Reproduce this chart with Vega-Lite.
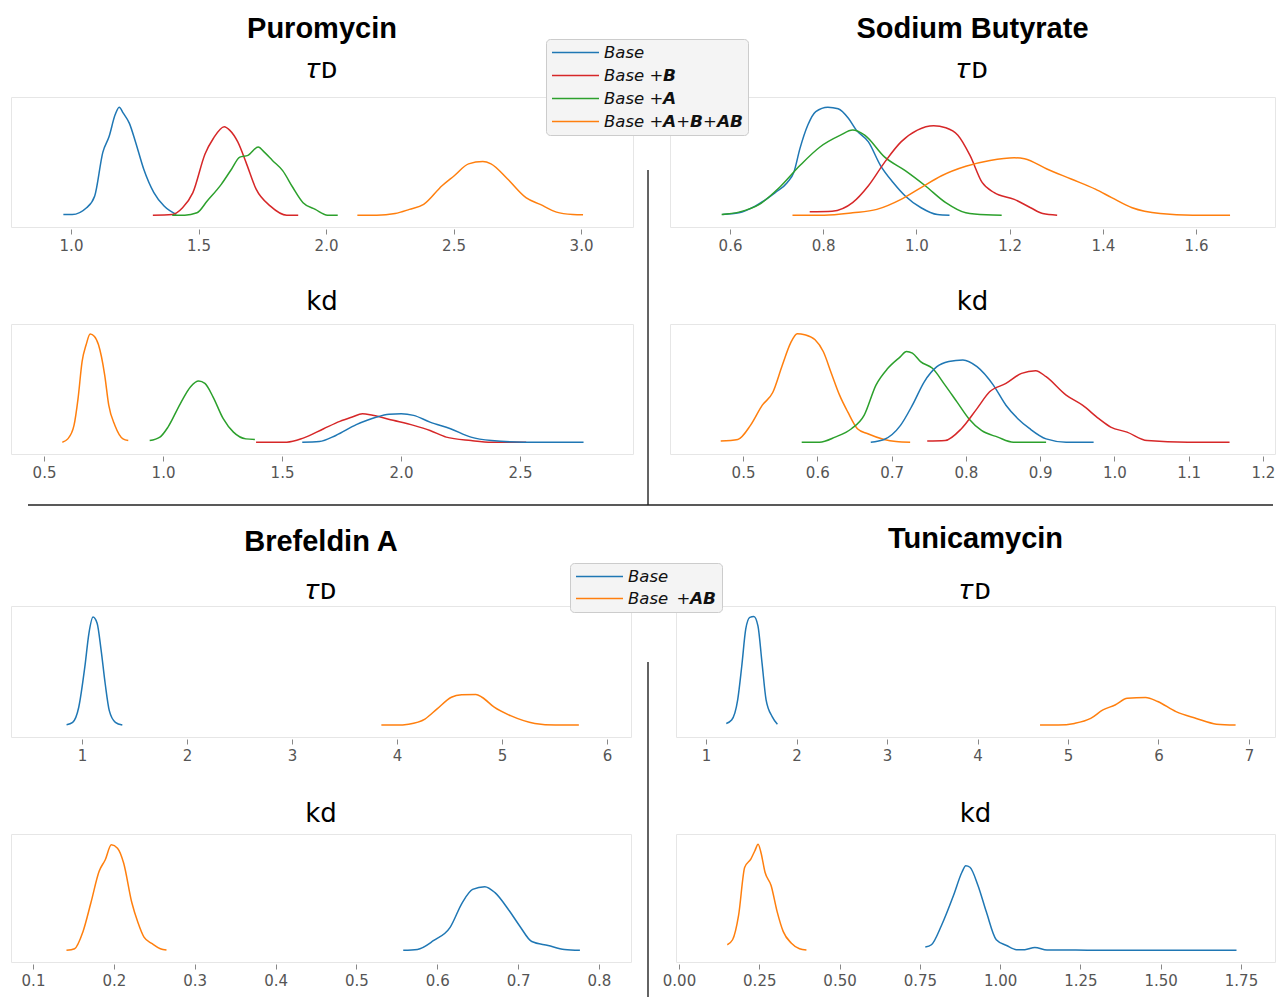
{
"$schema": "https://vega.github.io/schema/vega-lite/v6.json",
"padding": {"left": 10, "top": 14, "right": 0, "bottom": 0},
"config": {
  "view": {"stroke": "#e6e6e6", "strokeWidth": 1},
  "axis": {"domain": false, "grid": false, "ticks": true, "tickColor": "#888888", "tickSize": 5, "tickWidth": 1, "labelFont": "DejaVu Sans", "labelFontSize": 15, "labelColor": "#555555", "labelPadding": 4.5, "offset": 2, "labelFlush": false},
  "title": {"font": "Liberation Sans", "fontWeight": "bold", "fontSize": 29, "color": "black", "subtitleFont": "DejaVu Sans", "subtitleFontSize": 28, "subtitleColor": "black", "anchor": "middle", "frame": "group"},
  "legend": {"orient": "none", "title": null, "symbolType": "stroke", "symbolSize": 2209, "symbolStrokeWidth": 1.5, "labelFont": "DejaVu Sans", "labelFontStyle": "italic", "labelFontSize": 16.5, "labelColor": "#111111", "fillColor": "#f4f4f4", "strokeColor": "#cccccc", "cornerRadius": 4, "padding": 5, "rowPadding": 6, "clipHeight": 17, "labelOffset": 4, "labelLimit": 400},
  "line": {"strokeWidth": 1.5, "interpolate": "monotone"}
},
"datasets": {
  "pt": [
    {"s":"Base","x":0.970,"y":0.006},{"s":"Base","x":1.005,"y":0.006},{"s":"Base","x":1.061,"y":0.063},{"s":"Base","x":1.093,"y":0.163},{"s":"Base","x":1.125,"y":0.534},{"s":"Base","x":1.149,"y":0.663},{"s":"Base","x":1.173,"y":0.849},{"s":"Base","x":1.189,"y":0.914},{"s":"Base","x":1.205,"y":0.863},{"s":"Base","x":1.229,"y":0.777},{"s":"Base","x":1.253,"y":0.62},{"s":"Base","x":1.285,"y":0.391},{"s":"Base","x":1.325,"y":0.191},{"s":"Base","x":1.365,"y":0.077},{"s":"Base","x":1.413,"y":0.006},
    {"s":"Base +B","x":1.321,"y":0},{"s":"Base +B","x":1.397,"y":0.006},{"s":"Base +B","x":1.4375,"y":0.063},{"s":"Base +B","x":1.478,"y":0.191},{"s":"Base +B","x":1.526,"y":0.52},{"s":"Base +B","x":1.558,"y":0.649},{"s":"Base +B","x":1.601,"y":0.749},{"s":"Base +B","x":1.622,"y":0.72},{"s":"Base +B","x":1.654,"y":0.62},{"s":"Base +B","x":1.686,"y":0.449},{"s":"Base +B","x":1.726,"y":0.22},{"s":"Base +B","x":1.782,"y":0.077},{"s":"Base +B","x":1.846,"y":0},{"s":"Base +B","x":1.891,"y":0},
    {"s":"Base +A","x":1.397,"y":0},{"s":"Base +A","x":1.446,"y":0},{"s":"Base +A","x":1.494,"y":0.02},{"s":"Base +A","x":1.534,"y":0.12},{"s":"Base +A","x":1.590,"y":0.263},{"s":"Base +A","x":1.630,"y":0.391},{"s":"Base +A","x":1.662,"y":0.491},{"s":"Base +A","x":1.694,"y":0.506},{"s":"Base +A","x":1.734,"y":0.577},{"s":"Base +A","x":1.758,"y":0.534},{"s":"Base +A","x":1.790,"y":0.463},{"s":"Base +A","x":1.830,"y":0.377},{"s":"Base +A","x":1.870,"y":0.234},{"s":"Base +A","x":1.910,"y":0.106},{"s":"Base +A","x":1.958,"y":0.049},{"s":"Base +A","x":2.006,"y":0},{"s":"Base +A","x":2.046,"y":0},
    {"s":"Base +A+B+AB","x":2.123,"y":0},{"s":"Base +A+B+AB","x":2.199,"y":0},{"s":"Base +A+B+AB","x":2.271,"y":0.014},{"s":"Base +A+B+AB","x":2.327,"y":0.049},{"s":"Base +A+B+AB","x":2.383,"y":0.091},{"s":"Base +A+B+AB","x":2.455,"y":0.249},{"s":"Base +A+B+AB","x":2.503,"y":0.334},{"s":"Base +A+B+AB","x":2.559,"y":0.434},{"s":"Base +A+B+AB","x":2.615,"y":0.454},{"s":"Base +A+B+AB","x":2.647,"y":0.434},{"s":"Base +A+B+AB","x":2.712,"y":0.306},{"s":"Base +A+B+AB","x":2.784,"y":0.149},{"s":"Base +A+B+AB","x":2.840,"y":0.091},{"s":"Base +A+B+AB","x":2.904,"y":0.026},{"s":"Base +A+B+AB","x":2.968,"y":0.006},{"s":"Base +A+B+AB","x":3.008,"y":0.003}
  ],
  "sbt": [
    {"s":"Base","x":0.584,"y":0.006},{"s":"Base","x":0.619,"y":0.02},{"s":"Base","x":0.654,"y":0.077},{"s":"Base","x":0.697,"y":0.191},{"s":"Base","x":0.723,"y":0.277},{"s":"Base","x":0.737,"y":0.363},{"s":"Base","x":0.750,"y":0.563},{"s":"Base","x":0.767,"y":0.763},{"s":"Base","x":0.784,"y":0.877},{"s":"Base","x":0.810,"y":0.914},{"s":"Base","x":0.832,"y":0.9},{"s":"Base","x":0.854,"y":0.82},{"s":"Base","x":0.871,"y":0.72},{"s":"Base","x":0.897,"y":0.62},{"s":"Base","x":0.923,"y":0.42},{"s":"Base","x":0.950,"y":0.277},{"s":"Base","x":0.976,"y":0.163},{"s":"Base","x":1.010,"y":0.063},{"s":"Base","x":1.045,"y":0.006},{"s":"Base","x":1.071,"y":0},
    {"s":"Base +A","x":0.582,"y":0.006},{"s":"Base +A","x":0.619,"y":0.026},{"s":"Base +A","x":0.663,"y":0.091},{"s":"Base +A","x":0.706,"y":0.234},{"s":"Base +A","x":0.750,"y":0.42},{"s":"Base +A","x":0.793,"y":0.577},{"s":"Base +A","x":0.837,"y":0.677},{"s":"Base +A","x":0.863,"y":0.72},{"s":"Base +A","x":0.889,"y":0.677},{"s":"Base +A","x":0.932,"y":0.491},{"s":"Base +A","x":0.976,"y":0.377},{"s":"Base +A","x":1.019,"y":0.249},{"s":"Base +A","x":1.063,"y":0.106},{"s":"Base +A","x":1.106,"y":0.02},{"s":"Base +A","x":1.150,"y":0.003},{"s":"Base +A","x":1.183,"y":0},
    {"s":"Base +B","x":0.771,"y":0.029},{"s":"Base +B","x":0.819,"y":0.034},{"s":"Base +B","x":0.863,"y":0.106},{"s":"Base +B","x":0.897,"y":0.249},{"s":"Base +B","x":0.932,"y":0.449},{"s":"Base +B","x":0.967,"y":0.62},{"s":"Base +B","x":1.002,"y":0.72},{"s":"Base +B","x":1.037,"y":0.757},{"s":"Base +B","x":1.063,"y":0.74},{"s":"Base +B","x":1.089,"y":0.677},{"s":"Base +B","x":1.115,"y":0.506},{"s":"Base +B","x":1.141,"y":0.277},{"s":"Base +B","x":1.167,"y":0.191},{"s":"Base +B","x":1.210,"y":0.134},{"s":"Base +B","x":1.245,"y":0.063},{"s":"Base +B","x":1.271,"y":0.014},{"s":"Base +B","x":1.302,"y":0},
    {"s":"Base +A+B+AB","x":0.734,"y":0},{"s":"Base +A+B+AB","x":0.802,"y":0},{"s":"Base +A+B+AB","x":0.863,"y":0.02},{"s":"Base +A+B+AB","x":0.915,"y":0.049},{"s":"Base +A+B+AB","x":0.967,"y":0.134},{"s":"Base +A+B+AB","x":1.010,"y":0.234},{"s":"Base +A+B+AB","x":1.054,"y":0.334},{"s":"Base +A+B+AB","x":1.106,"y":0.414},{"s":"Base +A+B+AB","x":1.158,"y":0.463},{"s":"Base +A+B+AB","x":1.210,"y":0.486},{"s":"Base +A+B+AB","x":1.232,"y":0.477},{"s":"Base +A+B+AB","x":1.280,"y":0.391},{"s":"Base +A+B+AB","x":1.332,"y":0.306},{"s":"Base +A+B+AB","x":1.384,"y":0.22},{"s":"Base +A+B+AB","x":1.419,"y":0.149},{"s":"Base +A+B+AB","x":1.463,"y":0.063},{"s":"Base +A+B+AB","x":1.523,"y":0.014},{"s":"Base +A+B+AB","x":1.593,"y":0},{"s":"Base +A+B+AB","x":1.673,"y":0}
  ],
  "pk": [
    {"s":"Base +A+B+AB","x":0.577,"y":0},{"s":"Base +A+B+AB","x":0.600,"y":0.028},{"s":"Base +A+B+AB","x":0.626,"y":0.142},{"s":"Base +A+B+AB","x":0.643,"y":0.369},{"s":"Base +A+B+AB","x":0.660,"y":0.682},{"s":"Base +A+B+AB","x":0.677,"y":0.824},{"s":"Base +A+B+AB","x":0.694,"y":0.915},{"s":"Base +A+B+AB","x":0.712,"y":0.895},{"s":"Base +A+B+AB","x":0.729,"y":0.824},{"s":"Base +A+B+AB","x":0.755,"y":0.568},{"s":"Base +A+B+AB","x":0.772,"y":0.313},{"s":"Base +A+B+AB","x":0.798,"y":0.142},{"s":"Base +A+B+AB","x":0.832,"y":0.028},{"s":"Base +A+B+AB","x":0.854,"y":0.014},
    {"s":"Base +A","x":0.944,"y":0.014},{"s":"Base +A","x":0.987,"y":0.043},{"s":"Base +A","x":1.021,"y":0.128},{"s":"Base +A","x":1.073,"y":0.327},{"s":"Base +A","x":1.116,"y":0.469},{"s":"Base +A","x":1.150,"y":0.517},{"s":"Base +A","x":1.176,"y":0.497},{"s":"Base +A","x":1.210,"y":0.384},{"s":"Base +A","x":1.253,"y":0.199},{"s":"Base +A","x":1.296,"y":0.085},{"s":"Base +A","x":1.348,"y":0.028},{"s":"Base +A","x":1.386,"y":0.023},
    {"s":"Base +B","x":1.391,"y":0},{"s":"Base +B","x":1.520,"y":0},{"s":"Base +B","x":1.589,"y":0.034},{"s":"Base +B","x":1.675,"y":0.114},{"s":"Base +B","x":1.743,"y":0.176},{"s":"Base +B","x":1.795,"y":0.213},{"s":"Base +B","x":1.838,"y":0.241},{"s":"Base +B","x":1.881,"y":0.227},{"s":"Base +B","x":1.967,"y":0.185},{"s":"Base +B","x":2.053,"y":0.142},{"s":"Base +B","x":2.122,"y":0.099},{"s":"Base +B","x":2.190,"y":0.043},{"s":"Base +B","x":2.294,"y":0.014},{"s":"Base +B","x":2.380,"y":0},{"s":"Base +B","x":2.526,"y":0},
    {"s":"Base","x":1.585,"y":0},{"s":"Base","x":1.657,"y":0.006},{"s":"Base","x":1.726,"y":0.057},{"s":"Base","x":1.812,"y":0.148},{"s":"Base","x":1.898,"y":0.213},{"s":"Base","x":1.950,"y":0.236},{"s":"Base","x":2.001,"y":0.241},{"s":"Base","x":2.053,"y":0.227},{"s":"Base","x":2.122,"y":0.170},{"s":"Base","x":2.208,"y":0.114},{"s":"Base","x":2.294,"y":0.043},{"s":"Base","x":2.380,"y":0.014},{"s":"Base","x":2.517,"y":0},{"s":"Base","x":2.767,"y":0}
  ],
  "sbk": [
    {"s":"Base +A+B+AB","x":0.470,"y":0.009},{"s":"Base +A+B+AB","x":0.493,"y":0.023},{"s":"Base +A+B+AB","x":0.510,"y":0.142},{"s":"Base +A+B+AB","x":0.526,"y":0.313},{"s":"Base +A+B+AB","x":0.540,"y":0.42},{"s":"Base +A+B+AB","x":0.553,"y":0.653},{"s":"Base +A+B+AB","x":0.564,"y":0.838},{"s":"Base +A+B+AB","x":0.573,"y":0.918},{"s":"Base +A+B+AB","x":0.583,"y":0.909},{"s":"Base +A+B+AB","x":0.597,"y":0.866},{"s":"Base +A+B+AB","x":0.608,"y":0.767},{"s":"Base +A+B+AB","x":0.619,"y":0.582},{"s":"Base +A+B+AB","x":0.630,"y":0.398},{"s":"Base +A+B+AB","x":0.641,"y":0.256},{"s":"Base +A+B+AB","x":0.654,"y":0.114},{"s":"Base +A+B+AB","x":0.668,"y":0.071},{"s":"Base +A+B+AB","x":0.690,"y":0.023},{"s":"Base +A+B+AB","x":0.706,"y":0.006},{"s":"Base +A+B+AB","x":0.725,"y":0},
    {"s":"Base +A","x":0.579,"y":0},{"s":"Base +A","x":0.603,"y":0},{"s":"Base +A","x":0.624,"y":0.043},{"s":"Base +A","x":0.646,"y":0.114},{"s":"Base +A","x":0.663,"y":0.227},{"s":"Base +A","x":0.679,"y":0.483},{"s":"Base +A","x":0.695,"y":0.625},{"s":"Base +A","x":0.712,"y":0.724},{"s":"Base +A","x":0.720,"y":0.767},{"s":"Base +A","x":0.728,"y":0.753},{"s":"Base +A","x":0.739,"y":0.682},{"s":"Base +A","x":0.755,"y":0.625},{"s":"Base +A","x":0.772,"y":0.483},{"s":"Base +A","x":0.788,"y":0.341},{"s":"Base +A","x":0.804,"y":0.199},{"s":"Base +A","x":0.821,"y":0.099},{"s":"Base +A","x":0.843,"y":0.043},{"s":"Base +A","x":0.864,"y":0},{"s":"Base +A","x":0.908,"y":0},
    {"s":"Base","x":0.672,"y":0},{"s":"Base","x":0.690,"y":0.023},{"s":"Base","x":0.712,"y":0.142},{"s":"Base","x":0.728,"y":0.313},{"s":"Base","x":0.744,"y":0.511},{"s":"Base","x":0.761,"y":0.639},{"s":"Base","x":0.777,"y":0.682},{"s":"Base","x":0.796,"y":0.696},{"s":"Base","x":0.815,"y":0.639},{"s":"Base","x":0.837,"y":0.483},{"s":"Base","x":0.854,"y":0.313},{"s":"Base","x":0.870,"y":0.199},{"s":"Base","x":0.886,"y":0.114},{"s":"Base","x":0.908,"y":0.028},{"s":"Base","x":0.935,"y":0},{"s":"Base","x":0.972,"y":0},
    {"s":"Base +B","x":0.748,"y":0.009},{"s":"Base +B","x":0.772,"y":0.014},{"s":"Base +B","x":0.794,"y":0.114},{"s":"Base +B","x":0.815,"y":0.284},{"s":"Base +B","x":0.832,"y":0.426},{"s":"Base +B","x":0.854,"y":0.497},{"s":"Base +B","x":0.875,"y":0.582},{"s":"Base +B","x":0.894,"y":0.605},{"s":"Base +B","x":0.908,"y":0.554},{"s":"Base +B","x":0.935,"y":0.398},{"s":"Base +B","x":0.957,"y":0.313},{"s":"Base +B","x":0.979,"y":0.199},{"s":"Base +B","x":0.995,"y":0.128},{"s":"Base +B","x":1.017,"y":0.085},{"s":"Base +B","x":1.044,"y":0.014},{"s":"Base +B","x":1.099,"y":0},{"s":"Base +B","x":1.155,"y":0}
  ],
  "bt": [
    {"s":"Base","x":0.853,"y":0.003},{"s":"Base","x":0.911,"y":0.023},{"s":"Base","x":0.969,"y":0.150},{"s":"Base","x":1.027,"y":0.489},{"s":"Base","x":1.066,"y":0.771},{"s":"Base","x":1.105,"y":0.907},{"s":"Base","x":1.144,"y":0.856},{"s":"Base","x":1.182,"y":0.630},{"s":"Base","x":1.221,"y":0.347},{"s":"Base","x":1.260,"y":0.121},{"s":"Base","x":1.318,"y":0.023},{"s":"Base","x":1.384,"y":0},
    {"s":"Base +AB","x":3.851,"y":0},{"s":"Base +AB","x":3.995,"y":0},{"s":"Base +AB","x":4.111,"y":0.008},{"s":"Base +AB","x":4.266,"y":0.051},{"s":"Base +AB","x":4.382,"y":0.136},{"s":"Base +AB","x":4.518,"y":0.234},{"s":"Base +AB","x":4.615,"y":0.254},{"s":"Base +AB","x":4.751,"y":0.257},{"s":"Base +AB","x":4.809,"y":0.234},{"s":"Base +AB","x":4.926,"y":0.150},{"s":"Base +AB","x":5.081,"y":0.079},{"s":"Base +AB","x":5.313,"y":0.014},{"s":"Base +AB","x":5.507,"y":0},{"s":"Base +AB","x":5.732,"y":0}
  ],
  "tt": [
    {"s":"Base","x":1.224,"y":0.014},{"s":"Base","x":1.283,"y":0.042},{"s":"Base","x":1.350,"y":0.212},{"s":"Base","x":1.395,"y":0.494},{"s":"Base","x":1.439,"y":0.805},{"s":"Base","x":1.484,"y":0.904},{"s":"Base","x":1.529,"y":0.912},{"s":"Base","x":1.574,"y":0.833},{"s":"Base","x":1.619,"y":0.523},{"s":"Base","x":1.664,"y":0.212},{"s":"Base","x":1.731,"y":0.071},{"s":"Base","x":1.789,"y":0.008},
    {"s":"Base +AB","x":4.691,"y":0},{"s":"Base +AB","x":4.892,"y":0},{"s":"Base +AB","x":5.072,"y":0.014},{"s":"Base +AB","x":5.251,"y":0.056},{"s":"Base +AB","x":5.386,"y":0.127},{"s":"Base +AB","x":5.520,"y":0.169},{"s":"Base +AB","x":5.655,"y":0.226},{"s":"Base +AB","x":5.857,"y":0.232},{"s":"Base +AB","x":5.991,"y":0.198},{"s":"Base +AB","x":6.193,"y":0.113},{"s":"Base +AB","x":6.417,"y":0.056},{"s":"Base +AB","x":6.641,"y":0.008},{"s":"Base +AB","x":6.852,"y":0}
  ],
  "bk": [
    {"s":"Base +AB","x":0.1414,"y":0},{"s":"Base +AB","x":0.1515,"y":0.014},{"s":"Base +AB","x":0.1616,"y":0.156},{"s":"Base +AB","x":0.1717,"y":0.411},{"s":"Base +AB","x":0.1818,"y":0.680},{"s":"Base +AB","x":0.1894,"y":0.779},{"s":"Base +AB","x":0.1969,"y":0.907},{"s":"Base +AB","x":0.2045,"y":0.878},{"s":"Base +AB","x":0.2121,"y":0.751},{"s":"Base +AB","x":0.2222,"y":0.411},{"s":"Base +AB","x":0.2297,"y":0.241},{"s":"Base +AB","x":0.2373,"y":0.113},{"s":"Base +AB","x":0.2474,"y":0.057},{"s":"Base +AB","x":0.2575,"y":0.014},{"s":"Base +AB","x":0.2651,"y":0.003},
    {"s":"Base","x":0.5579,"y":0},{"s":"Base","x":0.5755,"y":0.008},{"s":"Base","x":0.5957,"y":0.085},{"s":"Base","x":0.6159,"y":0.198},{"s":"Base","x":0.6310,"y":0.411},{"s":"Base","x":0.6437,"y":0.524},{"s":"Base","x":0.6588,"y":0.547},{"s":"Base","x":0.6714,"y":0.496},{"s":"Base","x":0.6891,"y":0.340},{"s":"Base","x":0.7017,"y":0.212},{"s":"Base","x":0.7169,"y":0.076},{"s":"Base","x":0.7371,"y":0.042},{"s":"Base","x":0.7573,"y":0.008},{"s":"Base","x":0.7764,"y":0}
  ],
  "tk": [
    {"s":"Base +AB","x":0.1504,"y":0.048},{"s":"Base +AB","x":0.1668,"y":0.091},{"s":"Base +AB","x":0.1857,"y":0.303},{"s":"Base +AB","x":0.2047,"y":0.714},{"s":"Base +AB","x":0.2237,"y":0.785},{"s":"Base +AB","x":0.2363,"y":0.856},{"s":"Base +AB","x":0.2464,"y":0.912},{"s":"Base +AB","x":0.2552,"y":0.841},{"s":"Base +AB","x":0.2679,"y":0.671},{"s":"Base +AB","x":0.2868,"y":0.558},{"s":"Base +AB","x":0.3058,"y":0.331},{"s":"Base +AB","x":0.3247,"y":0.161},{"s":"Base +AB","x":0.3500,"y":0.062},{"s":"Base +AB","x":0.3753,"y":0.014},{"s":"Base +AB","x":0.3968,"y":0.003},
    {"s":"Base","x":0.767,"y":0.028},{"s":"Base","x":0.786,"y":0.048},{"s":"Base","x":0.818,"y":0.218},{"s":"Base","x":0.855,"y":0.473},{"s":"Base","x":0.881,"y":0.671},{"s":"Base","x":0.893,"y":0.728},{"s":"Base","x":0.906,"y":0.714},{"s":"Base","x":0.931,"y":0.558},{"s":"Base","x":0.957,"y":0.331},{"s":"Base","x":0.988,"y":0.091},{"s":"Base","x":1.020,"y":0.042},{"s":"Base","x":1.051,"y":0.006},{"s":"Base","x":1.077,"y":0.006},{"s":"Base","x":1.108,"y":0.025},{"s":"Base","x":1.146,"y":0.004},{"s":"Base","x":1.200,"y":0.003},{"s":"Base","x":1.272,"y":0.002},{"s":"Base","x":1.350,"y":0.001},{"s":"Base","x":1.399,"y":0},{"s":"Base","x":1.525,"y":0},{"s":"Base","x":1.601,"y":0.002},{"s":"Base","x":1.652,"y":0},{"s":"Base","x":1.736,"y":0}
  ]
},
"vconcat": [
  {
    "columns": 2, "bounds": "flush", "spacing": {"row": 97, "column": 37},
    "concat": [
      {
        "width": 622, "height": 130,
        "title": {"text": "Puromycin", "subtitle": "𝜏ᴅ", "subtitlePadding": 12, "offset": 13},
        "data": {"name": "pt"},
        "mark": {"type": "line"},
        "encoding": {
          "x": {"field": "x", "type": "quantitative", "scale": {"domain": [0.7647, 3.2039], "nice": false, "zero": false}, "axis": {"title": null, "values": [1, 1.5, 2, 2.5, 3], "format": ".1f"}},
          "y": {"field": "y", "type": "quantitative", "scale": {"domain": [-0.1, 1.0], "nice": false, "zero": false}, "axis": null},
          "color": {"field": "s", "type": "nominal", "scale": {"domain": ["Base", "Base +B", "Base +A", "Base +A+B+AB"], "range": ["#1f77b4", "#d62728", "#2ca02c", "#ff7f0e"]}, "legend": {"legendX": 535, "legendY": -58, "labelExpr": "datum.label == 'Base +B' ? 'Base +𝘽' : datum.label == 'Base +A' ? 'Base +𝘼' : datum.label == 'Base +A+B+AB' ? 'Base +𝘼+𝘽+𝘼𝘽' : datum.label"}}
        }
      },
      {
        "width": 605, "height": 130,
        "title": {"text": "Sodium Butyrate", "subtitle": "𝜏ᴅ", "subtitlePadding": 12, "offset": 13},
        "layer": [
          {
            "data": {"name": "sbt"},
            "mark": {"type": "line"},
            "encoding": {
              "x": {"field": "x", "type": "quantitative", "scale": {"domain": [0.4712, 1.7695], "nice": false, "zero": false}, "axis": {"title": null, "values": [0.6, 0.8, 1.0, 1.2, 1.4, 1.6], "format": ".1f"}},
              "y": {"field": "y", "type": "quantitative", "scale": {"domain": [-0.1, 1.0], "nice": false, "zero": false}, "axis": null},
              "color": {"field": "s", "type": "nominal", "scale": {"domain": ["Base", "Base +B", "Base +A", "Base +A+B+AB"], "range": ["#1f77b4", "#d62728", "#2ca02c", "#ff7f0e"]}, "legend": {"legendX": 535, "legendY": -58, "labelExpr": "datum.label == 'Base +B' ? 'Base +𝘽' : datum.label == 'Base +A' ? 'Base +𝘼' : datum.label == 'Base +A+B+AB' ? 'Base +𝘼+𝘽+𝘼𝘽' : datum.label"}}
            }
          },
          {
            "data": {"values": [{}]},
            "mark": {"type": "rule", "clip": false, "color": "#222222", "strokeWidth": 1.4},
            "encoding": {"x": {"datum": 0.424}, "y": {"datum": 0.3823}, "y2": {"datum": -2.4523}}
          }
        ]
      },
      {
        "width": 622, "height": 130,
        "title": {"text": "kd", "font": "DejaVu Sans", "fontWeight": "normal", "fontSize": 26, "offset": 9},
        "layer": [
          {
            "data": {"name": "pk"},
            "mark": {"type": "line"},
            "encoding": {
              "x": {"field": "x", "type": "quantitative", "scale": {"domain": [0.3613, 2.9748], "nice": false, "zero": false}, "axis": {"title": null, "values": [0.5, 1.0, 1.5, 2.0, 2.5], "format": ".1f"}},
              "y": {"field": "y", "type": "quantitative", "scale": {"domain": [-0.1, 1.0], "nice": false, "zero": false}, "axis": null},
              "color": {"field": "s", "type": "nominal", "scale": {"domain": ["Base", "Base +B", "Base +A", "Base +A+B+AB"], "range": ["#1f77b4", "#d62728", "#2ca02c", "#ff7f0e"]}, "legend": {"legendX": 535, "legendY": -58, "labelExpr": "datum.label == 'Base +B' ? 'Base +𝘽' : datum.label == 'Base +A' ? 'Base +𝘼' : datum.label == 'Base +A+B+AB' ? 'Base +𝘼+𝘽+𝘼𝘽' : datum.label"}}
            }
          },
          {
            "data": {"values": [{}]},
            "mark": {"type": "rule", "clip": false, "color": "#222222", "strokeWidth": 1.4},
            "encoding": {"x": {"datum": 0.4327}, "x2": {"datum": 5.6639}, "y": {"datum": -0.5315}}
          }
        ]
      },
      {
        "width": 605, "height": 130,
        "title": {"text": "kd", "font": "DejaVu Sans", "fontWeight": "normal", "fontSize": 26, "offset": 9},
        "data": {"name": "sbk"},
        "mark": {"type": "line"},
        "encoding": {
          "x": {"field": "x", "type": "quantitative", "scale": {"domain": [0.4017, 1.2162], "nice": false, "zero": false}, "axis": {"title": null, "values": [0.5, 0.6, 0.7, 0.8, 0.9, 1.0, 1.1, 1.2], "format": ".1f"}},
          "y": {"field": "y", "type": "quantitative", "scale": {"domain": [-0.1, 1.0], "nice": false, "zero": false}, "axis": null},
          "color": {"field": "s", "type": "nominal", "scale": {"domain": ["Base", "Base +B", "Base +A", "Base +A+B+AB"], "range": ["#1f77b4", "#d62728", "#2ca02c", "#ff7f0e"]}, "legend": {"legendX": 535, "legendY": -58, "labelExpr": "datum.label == 'Base +B' ? 'Base +𝘽' : datum.label == 'Base +A' ? 'Base +𝘼' : datum.label == 'Base +A+B+AB' ? 'Base +𝘼+𝘽+𝘼𝘽' : datum.label"}}
        }
      }
    ]
  },
  {
    "columns": 2, "bounds": "flush", "spacing": {"row": 97, "column": 45},
    "concat": [
      {
        "width": 620, "height": 131,
        "title": {"text": "Brefeldin A", "subtitle": "𝜏ᴅ", "subtitlePadding": 20, "offset": 1.5},
        "data": {"name": "bt"},
        "mark": {"type": "line"},
        "encoding": {
          "x": {"field": "x", "type": "quantitative", "scale": {"domain": [0.3238, 6.2286], "nice": false, "zero": false}, "axis": {"title": null, "values": [1, 2, 3, 4, 5, 6], "format": "d"}},
          "y": {"field": "y", "type": "quantitative", "scale": {"domain": [-0.1, 1.0], "nice": false, "zero": false}, "axis": null},
          "color": {"field": "s", "type": "nominal", "scale": {"domain": ["Base", "Base +AB"], "range": ["#1f77b4", "#ff7f0e"]}, "legend": {"legendX": 559, "legendY": -43, "rowPadding": 5, "labelExpr": "datum.label == 'Base +AB' ? 'Base\u2002+𝘼𝘽' : datum.label"}}
        }
      },
      {
        "width": 599, "height": 131,
        "title": {"text": "Tunicamycin", "subtitle": "𝜏ᴅ", "subtitlePadding": 23, "offset": 1.5},
        "layer": [
          {
            "data": {"name": "tt"},
            "mark": {"type": "line"},
            "encoding": {
              "x": {"field": "x", "type": "quantitative", "scale": {"domain": [0.6685, 7.2873], "nice": false, "zero": false}, "axis": {"title": null, "values": [1, 2, 3, 4, 5, 6, 7], "format": "d"}},
              "y": {"field": "y", "type": "quantitative", "scale": {"domain": [-0.1, 1.0], "nice": false, "zero": false}, "axis": null},
              "color": {"field": "s", "type": "nominal", "scale": {"domain": ["Base", "Base +AB"], "range": ["#1f77b4", "#ff7f0e"]}, "legend": {"legendX": 559, "legendY": -43, "rowPadding": 5, "labelExpr": "datum.label == 'Base +AB' ? 'Base\u2002+𝘼𝘽' : datum.label"}}
            }
          },
          {
            "data": {"values": [{}]},
            "mark": {"type": "rule", "clip": false, "color": "#222222", "strokeWidth": 1.4},
            "encoding": {"x": {"datum": 0.3591}, "y": {"datum": 0.5298}, "y2": {"datum": -2.2832}}
          }
        ]
      },
      {
        "width": 620, "height": 128,
        "title": {"text": "kd", "font": "DejaVu Sans", "fontWeight": "normal", "fontSize": 26, "offset": 7.5},
        "data": {"name": "bk"},
        "mark": {"type": "line"},
        "encoding": {
          "x": {"field": "x", "type": "quantitative", "scale": {"domain": [0.0728, 0.8396], "nice": false, "zero": false}, "axis": {"title": null, "values": [0.1, 0.2, 0.3, 0.4, 0.5, 0.6, 0.7, 0.8], "format": ".1f"}},
          "y": {"field": "y", "type": "quantitative", "scale": {"domain": [-0.1, 1.0], "nice": false, "zero": false}, "axis": null},
          "color": {"field": "s", "type": "nominal", "scale": {"domain": ["Base", "Base +AB"], "range": ["#1f77b4", "#ff7f0e"]}, "legend": {"legendX": 559, "legendY": -43, "rowPadding": 5, "labelExpr": "datum.label == 'Base +AB' ? 'Base\u2002+𝘼𝘽' : datum.label"}}
        }
      },
      {
        "width": 599, "height": 128,
        "title": {"text": "kd", "font": "DejaVu Sans", "fontWeight": "normal", "fontSize": 26, "offset": 7.5},
        "data": {"name": "tk"},
        "mark": {"type": "line"},
        "encoding": {
          "x": {"field": "x", "type": "quantitative", "scale": {"domain": [-0.0093, 1.8559], "nice": false, "zero": false}, "axis": {"title": null, "values": [0, 0.25, 0.5, 0.75, 1.0, 1.25, 1.5, 1.75], "format": ".2f"}},
          "y": {"field": "y", "type": "quantitative", "scale": {"domain": [-0.1, 1.0], "nice": false, "zero": false}, "axis": null},
          "color": {"field": "s", "type": "nominal", "scale": {"domain": ["Base", "Base +AB"], "range": ["#1f77b4", "#ff7f0e"]}, "legend": {"legendX": 559, "legendY": -43, "rowPadding": 5, "labelExpr": "datum.label == 'Base +AB' ? 'Base\u2002+𝘼𝘽' : datum.label"}}
        }
      }
    ]
  }
],
"spacing": 17,
"resolve": {"scale": {"color": "independent"}, "legend": {"color": "independent"}}
}
